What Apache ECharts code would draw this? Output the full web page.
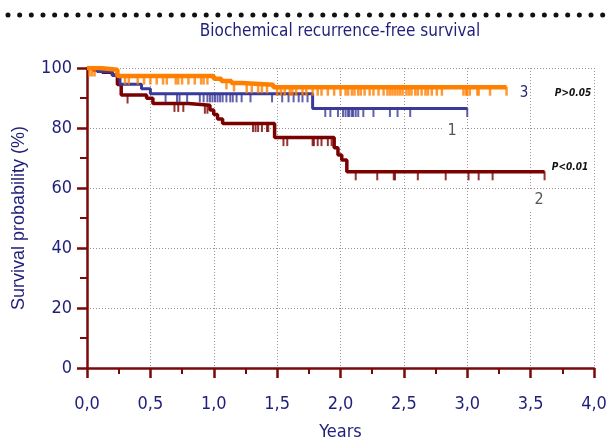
<!DOCTYPE html>
<html>
<head>
<meta charset="utf-8">
<script src="https://cdn.jsdelivr.net/npm/echarts@6/dist/echarts.min.js"></script>
<style>
  html, body { margin: 0; padding: 0; background: #fff; }
  #chart { width: 607px; height: 441px; }
</style>
</head>
<body>
<div id="chart"></div>
<script>
// group 3 (orange) - event times (years) and survival (%)
var orangeTimes = [0, 0.10, 0.24, 1.00, 1.06, 1.14, 1.22, 1.47];
var orangeSurv  = [100, 99.4, 97.3, 96.4, 95.7, 95.0, 94.4, 93.6];
var orangeEnd = 3.31;
var orangeCensor = [0.02, 0.04, 0.06, 0.30, 0.33, 0.40, 0.45, 0.50, 0.55, 0.60, 0.63, 0.70, 0.72, 0.75,
  0.80, 0.85, 0.90, 0.92, 0.95, 1.10, 1.16, 1.26, 1.30, 1.35, 1.38, 1.42, 1.50, 1.53, 1.56, 1.60,
  1.62, 1.65, 1.70, 1.73, 1.78, 1.82, 1.85, 1.90, 1.95, 2.00, 2.04, 2.06, 2.09, 2.11, 2.14, 2.16,
  2.19, 2.23, 2.26, 2.30, 2.34, 2.37, 2.39, 2.41, 2.43, 2.45, 2.47, 2.49, 2.52, 2.54, 2.56, 2.59,
  2.61, 2.64, 2.67, 2.69, 2.72, 2.76, 2.80, 2.97, 2.99, 3.00, 3.02, 3.08, 3.09, 3.18, 3.31];

// group 1 (blue)
var blueTimes = [0, 0.08, 0.20, 0.26, 0.43, 0.50, 1.78];
var blueSurv  = [100, 98.8, 97.5, 94.6, 93.1, 91.4, 86.5];
var blueEnd = 3.0;
var blueCensor = [0.62, 0.71, 0.73, 0.79, 0.89, 0.92, 0.95, 0.97, 0.99, 1.01, 1.03, 1.05, 1.07, 1.10,
  1.13, 1.15, 1.18, 1.22, 1.29, 1.46, 1.54, 1.59, 1.63, 1.67, 1.70, 1.74, 1.88, 1.92, 1.98, 2.02,
  2.04, 2.06, 2.07, 2.09, 2.10, 2.12, 2.14, 2.18, 2.26, 2.39, 2.45, 2.55, 3.0];

// group 2 (dark red)
var redTimes = [0, 0.05, 0.12, 0.20, 0.24, 0.27, 0.47, 0.52, 0.80, 0.97, 1.00, 1.03, 1.07, 1.48, 1.95, 1.98, 2.01, 2.05];
var redSurv  = [100, 99.3, 98.6, 97.7, 94.5, 91.0, 89.9, 88.2, 87.6, 86.0, 84.5, 83.0, 81.5, 76.8, 73.4, 71.0, 69.3, 65.4];
var redEnd = 3.61;
var redCensor = [0.32, 0.69, 0.72, 0.76, 0.93, 0.95, 1.31, 1.33, 1.35, 1.38, 1.42, 1.43, 1.55, 1.58,
  1.78, 1.79, 1.82, 1.85, 1.90, 1.93, 2.12, 2.29, 2.42, 2.43, 2.61, 2.83, 3.01, 3.09, 3.20, 3.61];

function stepData(times, surv, end) {
  var d = times.map(function (t, i) { return [t, surv[i]]; });
  d.push([end, surv[surv.length - 1]]);
  return d;
}
function survAt(times, surv, t) {
  var s = surv[0];
  for (var i = 0; i < times.length; i++) { if (times[i] <= t) s = surv[i]; }
  return s;
}
function censorData(cens, times, surv) {
  return cens.map(function (t) { return [t, survAt(times, surv, t)]; });
}

var navy = '#1f1f7a';
var axisRed = '#7a0a0a';
var narrow = '"DejaVu Sans Condensed", "Liberation Sans Narrow", sans-serif';

var myChart = echarts.init(document.getElementById('chart'));

var option = {
  animation: false,
  backgroundColor: '#fff',
  grid: { left: 87, right: 13, top: 68, bottom: 73, outerBoundsMode: 'none' },
  xAxis: {
    type: 'value', min: 0, max: 4, interval: 0.5,
    name: 'Years', nameLocation: 'middle', nameGap: 55,
    nameTextStyle: { color: navy, fontSize: 18, fontFamily: narrow },
    axisLine: { lineStyle: { color: axisRed, width: 2.5 } },
    axisTick: { length: 10, lineStyle: { color: axisRed, width: 2.5 } },
    minorTick: { show: true, splitNumber: 2, length: 6, lineStyle: { color: axisRed, width: 2 } },
    axisLabel: {
      color: navy, fontSize: 18, fontFamily: narrow, margin: 27,
      formatter: function (v) { return v.toFixed(1).replace('.', ','); }
    },
    splitLine: { show: true, lineStyle: { color: '#a09090', type: [1, 2], width: 1 } }
  },
  yAxis: {
    type: 'value', min: 0, max: 100, interval: 20,
    name: 'Survival probability (%)', nameLocation: 'middle', nameGap: 59,
    nameTextStyle: { color: navy, fontSize: 18, fontFamily: '"Liberation Sans", Arial, sans-serif' },
    axisLine: { lineStyle: { color: axisRed, width: 2.5 } },
    axisTick: { length: 10, lineStyle: { color: axisRed, width: 2.5 } },
    minorTick: { show: true, splitNumber: 2, length: 7, lineStyle: { color: axisRed, width: 2 } },
    axisLabel: { color: navy, fontSize: 18, fontFamily: narrow, margin: 15 },
    splitLine: { show: true, lineStyle: { color: '#a09090', type: [1, 2], width: 1 } }
  },
  series: [
    {
      type: 'line', step: 'end', showSymbol: false, z: 2,
      data: stepData(redTimes, redSurv, redEnd),
      lineStyle: { color: '#7b0000', width: 3.5 }
    },
    {
      type: 'scatter', z: 2, symbol: 'rect', symbolSize: [2, 9], symbolOffset: [0, 4],
      data: censorData(redCensor, redTimes, redSurv),
      itemStyle: { color: '#7b0000' }
    },
    {
      type: 'line', step: 'end', showSymbol: false, z: 3,
      data: stepData(blueTimes, blueSurv, blueEnd),
      lineStyle: { color: '#3a3a98', width: 3 }
    },
    {
      type: 'scatter', z: 3, symbol: 'rect', symbolSize: [2, 9], symbolOffset: [0, 4],
      data: censorData(blueCensor, blueTimes, blueSurv),
      itemStyle: { color: '#3a3a98' }
    },
    {
      type: 'line', step: 'end', showSymbol: false, z: 4,
      data: stepData(orangeTimes, orangeSurv, orangeEnd),
      lineStyle: { color: '#ff8000', width: 4.5 }
    },
    {
      type: 'scatter', z: 4, symbol: 'rect', symbolSize: [2.5, 9], symbolOffset: [0, 4],
      data: censorData(orangeCensor, orangeTimes, orangeSurv),
      itemStyle: { color: '#ff8000' }
    }
  ],
  graphic: [
    { type: 'line', shape: { x1: 8, y1: 15, x2: 604, y2: 15 },
      style: { stroke: '#111', lineWidth: 5, lineCap: 'round', lineDash: [0.01, 11.65] } },
    { type: 'text', x: 340, y: 32,
      style: { text: 'Biochemical recurrence-free survival', fill: navy, font: '17px ' + narrow,
        textAlign: 'center', textVerticalAlign: 'middle' } },
    { type: 'text', x: 524, y: 93, z: 10,
      style: { text: '3', fill: navy, font: '15px ' + narrow, textAlign: 'center', textVerticalAlign: 'middle' } },
    { type: 'text', x: 573, y: 93, z: 10,
      style: { text: 'P>0.05', fill: '#111', font: 'italic bold 10px ' + narrow, textAlign: 'center', textVerticalAlign: 'middle' } },
    { type: 'text', x: 452, y: 131, z: 10,
      style: { text: '1', fill: '#555', font: '16px ' + narrow, textAlign: 'center', textVerticalAlign: 'middle',
        backgroundColor: '#fff', padding: [2, 5] } },
    { type: 'text', x: 570, y: 167, z: 10,
      style: { text: 'P<0.01', fill: '#111', font: 'italic bold 10px ' + narrow, textAlign: 'center', textVerticalAlign: 'middle' } },
    { type: 'text', x: 539, y: 200, z: 10,
      style: { text: '2', fill: '#555', font: '16px ' + narrow, textAlign: 'center', textVerticalAlign: 'middle',
        backgroundColor: '#fff', padding: [2, 5] } }
  ]
};

myChart.setOption(option);
</script>
</body>
</html>
